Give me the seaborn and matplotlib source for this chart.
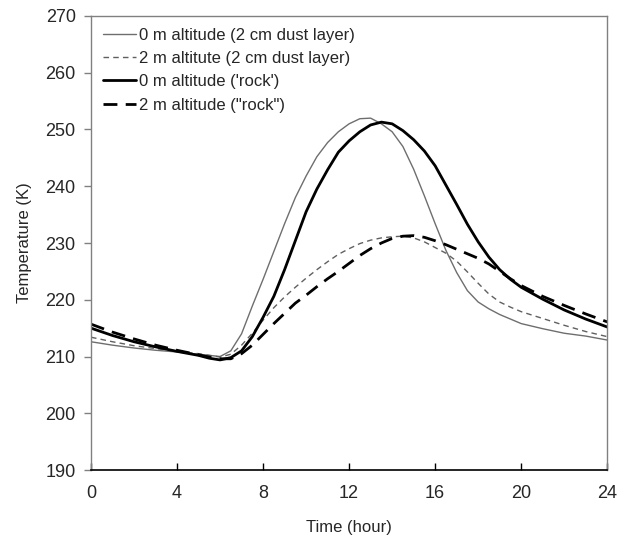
import pandas as pd
import matplotlib
matplotlib.use('Agg')
import matplotlib.pyplot as plt
import seaborn as sns

# Time axis (hours), finer steps through the day-time part of the cycle
hours = [0, 1, 2, 3, 4, 5, 5.5, 6, 6.5, 7, 7.5, 8, 8.5, 9, 9.5, 10, 10.5, 11, 11.5,
         12, 12.5, 13, 13.5, 14, 14.5, 15, 15.5, 16, 16.5, 17, 17.5, 18, 18.5,
         19, 19.5, 20, 21, 22, 23, 24]

# 0 m altitude, 2 cm dust layer
dust_0m = [212.6, 212.0, 211.5, 211.1, 210.8, 210.4, 210.2, 210.0, 211.0, 214.0,
           218.9, 223.6, 228.5, 233.4, 238.0, 241.8, 245.2, 247.7, 249.6,
           251.0, 251.9, 252.0, 251.0, 249.6, 247.0, 243.0, 238.3, 233.4, 228.7,
           224.8, 221.6, 219.6, 218.4, 217.4, 216.6, 215.8, 214.9, 214.1, 213.6, 212.9]

# 2 m altitude, 2 cm dust layer
dust_2m = [213.4, 212.6, 211.9, 211.4, 210.9, 210.5, 210.2, 209.9, 210.4, 212.0,
           214.1, 216.4, 218.6, 220.5, 222.2, 223.8, 225.3, 226.7, 228.0,
           229.0, 229.9, 230.5, 230.9, 231.1, 231.2, 230.9, 230.2, 229.2, 228.2,
           226.8, 224.9, 222.9, 221.0, 219.6, 218.7, 217.9, 216.7, 215.5, 214.4, 213.5]

# 0 m altitude, rock
rock_0m = [215.0, 213.7, 212.6, 211.7, 210.9, 210.2, 209.7, 209.4, 209.8, 211.0,
           213.5, 216.9, 220.6, 225.3, 230.4, 235.5, 239.5, 242.9, 246.0,
           248.0, 249.6, 250.8, 251.3, 251.0, 249.8, 248.2, 246.2, 243.6, 240.2,
           236.8, 233.3, 230.2, 227.5, 225.3, 223.6, 222.2, 220.1, 218.2, 216.6, 215.2]

# 2 m altitude, rock
rock_2m = [215.7, 214.3, 213.1, 212.0, 211.1, 210.3, 209.9, 209.6, 209.6, 210.5,
           212.0, 213.9, 215.8, 217.6, 219.4, 220.8, 222.3, 223.7, 225.0,
           226.4, 227.8, 229.0, 230.0, 230.8, 231.2, 231.3, 231.0, 230.4, 229.7,
           228.9, 228.1, 227.3, 226.3, 225.0, 223.7, 222.5, 220.6, 219.0, 217.5, 216.1]

labels = ['0 m altitude (2 cm dust layer)',
          '2 m altitute (2 cm dust layer)',
          "0 m altitude ('rock')",
          '2 m altitude ("rock")']

df = pd.DataFrame({'Time': hours, 'dust_0m': dust_0m, 'dust_2m': dust_2m,
                   'rock_0m': rock_0m, 'rock_2m': rock_2m})

sns.set_style('white')
plt.rcParams['font.family'] = ['Liberation Sans', 'DejaVu Sans']

fig = plt.figure(figsize=(6.19, 5.40), dpi=100)
ax = fig.add_axes([0.147, 0.1296, 0.834, 0.8408])

sns.lineplot(data=df, x='Time', y='dust_0m', ax=ax, color='#6e6e6e',
             linewidth=1.0, label=labels[0])
sns.lineplot(data=df, x='Time', y='dust_2m', ax=ax, color='#606060',
             linewidth=1.0, linestyle=(0, (4, 3)), label=labels[1])
sns.lineplot(data=df, x='Time', y='rock_0m', ax=ax, color='black',
             linewidth=2.0, label=labels[2])
sns.lineplot(data=df, x='Time', y='rock_2m', ax=ax, color='black',
             linewidth=2.0, linestyle=(0, (5, 3)), label=labels[3])

ax.set_xlim(0, 24)
ax.set_ylim(190, 270)
ax.set_xticks(range(0, 25, 4))
ax.set_yticks(range(190, 271, 10))
ax.set_xlabel('Time (hour)', fontsize=12, labelpad=13)
ax.set_ylabel('Temperature (K)', fontsize=12, labelpad=10)

ax.tick_params(axis='x', direction='in', length=5, width=1, color='black',
               labelsize=13, pad=11)
ax.tick_params(axis='y', direction='out', length=5, width=1, color='#808080',
               labelsize=13, pad=6)
ax.xaxis.set_ticks_position('bottom')
ax.yaxis.set_ticks_position('left')

for side in ['top', 'right', 'left']:
    ax.spines[side].set_color('#808080')
    ax.spines[side].set_linewidth(1.0)
ax.spines['bottom'].set_color('black')
ax.spines['bottom'].set_linewidth(1.2)

ax.legend(loc='upper left', frameon=False, fontsize=12, handlelength=2.0,
          handletextpad=0.2, labelspacing=0.5, borderaxespad=0.3,
          bbox_to_anchor=(0.0, 1.0))

fig.savefig('out.png', dpi=100)
